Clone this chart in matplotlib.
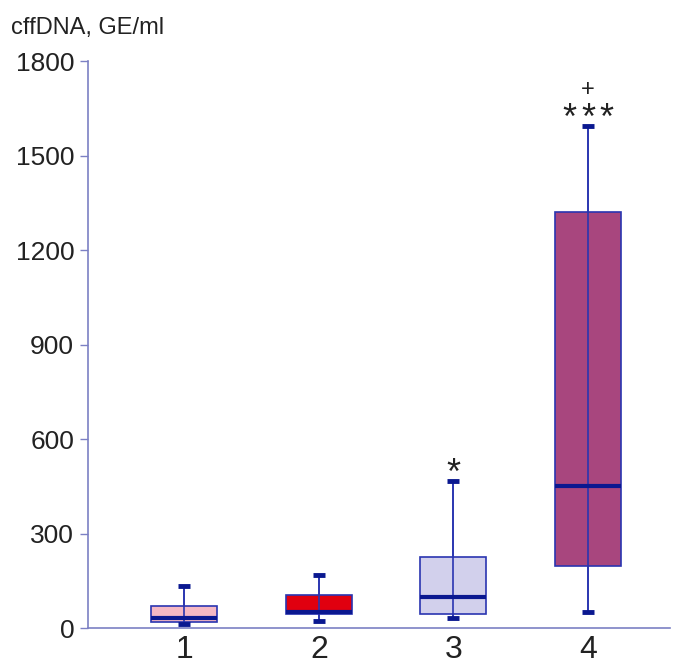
import matplotlib
matplotlib.use("Agg")
import matplotlib.pyplot as plt

groups = ["1", "2", "3", "4"]
whislo = [13, 22, 32, 52]
q1 = [18, 43, 46, 198]
med = [32, 52, 100, 451]
q3 = [70, 105, 225, 1322]
whishi = [135, 168, 466, 1596]
fills = ["#f5b8c4", "#e0000f", "#d2d0ec", "#a8467e"]
n_stars = [0, 0, 1, 3]
yticks = [0, 300, 600, 900, 1200, 1500, 1800]

plt.rcParams['font.family'] = ['Liberation Sans', 'DejaVu Sans']
fig = plt.figure(figsize=(6.74, 6.66), dpi=100)
ax = fig.add_axes([0.1306, 0.057, 0.8634, 0.851])

pos = list(range(1, len(groups) + 1))
stats = [dict(whislo=a, q1=b, med=c, q3=d, whishi=e, label=g)
         for a, b, c, d, e, g in zip(whislo, q1, med, q3, whishi, groups)]
bp = ax.bxp(stats, positions=pos, widths=0.49, showfliers=False, patch_artist=True,
            boxprops=dict(edgecolor="#2a35b0", linewidth=1.2),
            whiskerprops=dict(color="#2a35b0", linewidth=1.2),
            capprops=dict(color="#0a1890", linewidth=3.5, solid_capstyle="butt", zorder=4),
            medianprops=dict(color="#0a1890", linewidth=3, solid_capstyle="butt", zorder=4),
            capwidths=0.09)
for patch, c in zip(bp['boxes'], fills):
    patch.set_facecolor(c)
ax.vlines(pos, whislo, whishi, colors="#2a35b0", linewidth=1.2, zorder=3)

for p, hi, n in zip(pos, whishi, n_stars):
    offs = [0] if n == 1 else ([-0.138, 0, 0.138] if n == 3 else [])
    for o in offs:
        ax.annotate("*", (p + o, hi), xytext=(0, -8), textcoords="offset points",
                    ha="center", va="bottom", fontsize=26, color="#222222")
ax.annotate("+", (pos[3], whishi[3]), xytext=(0, 18), textcoords="offset points",
            ha="center", va="bottom", fontsize=17, color="#222222")

ax.set_xlim(0.284, 4.61)
ax.set_ylim(0, 1800)
ax.set_yticks(yticks)
ax.set_xticks(pos)
ax.set_xticklabels(groups, fontsize=23)
ax.tick_params(axis='x', length=0, pad=5, colors="#222222")
ax.tick_params(axis='y', length=6, width=1, color="#7c80c4", labelsize=19, labelcolor="#222222", pad=4)
for s in ["top", "right"]:
    ax.spines[s].set_visible(False)
for s in ["left", "bottom"]:
    ax.spines[s].set_color("#7c80c4")
    ax.spines[s].set_linewidth(1.2)
fig.text(0.016, 0.958, "cffDNA, GE/ml", fontsize=17, color="#222222", va="center", ha="left")

fig.savefig("out.png", dpi=100)
